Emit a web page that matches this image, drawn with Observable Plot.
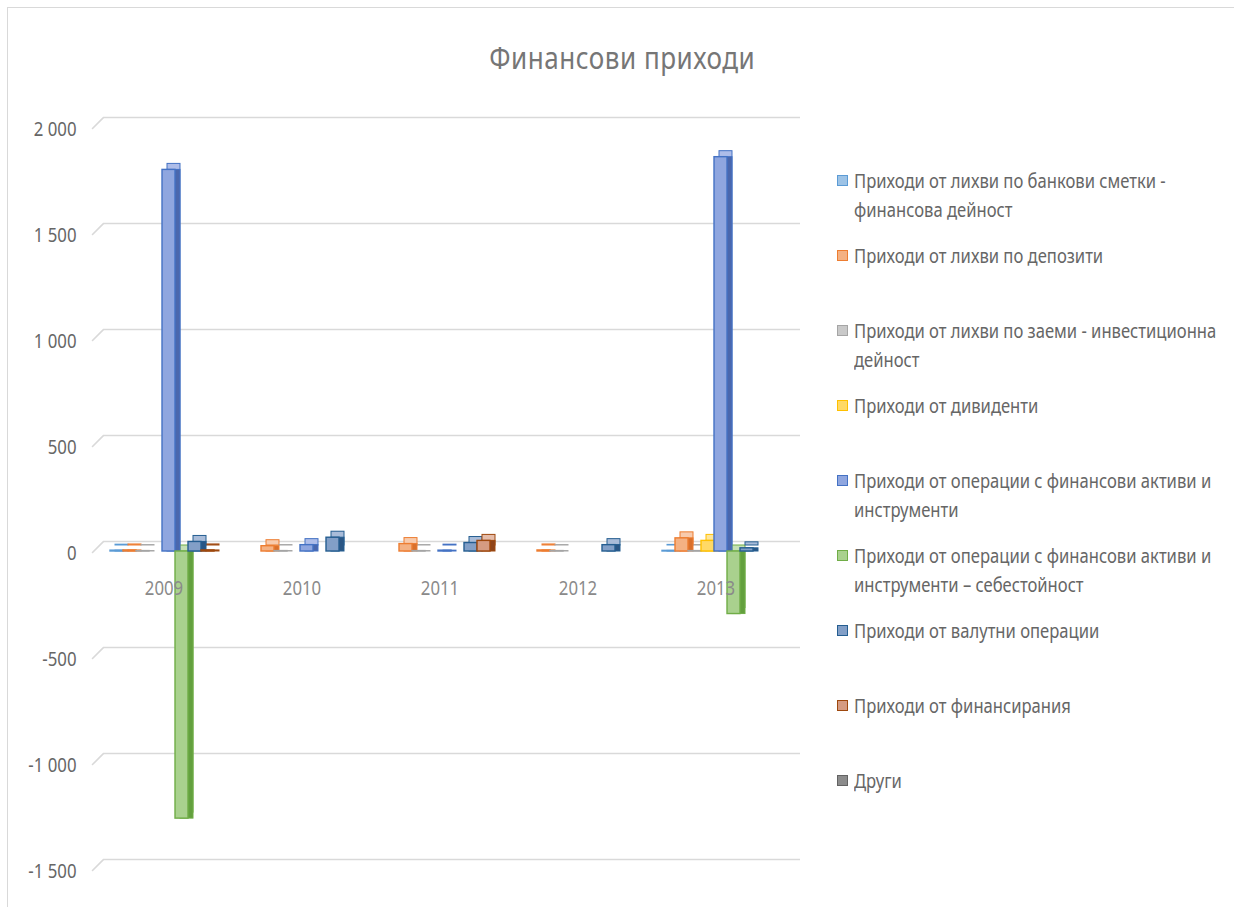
<!DOCTYPE html>
<html>
<head>
<meta charset="utf-8">
<script src="https://cdn.jsdelivr.net/npm/d3@7"></script>
<script src="https://cdn.jsdelivr.net/npm/@observablehq/plot@0.6"></script>
<style>
  body { margin: 0; background: #fff; }
  #chart { position: relative; width: 1234px; height: 907px; overflow: hidden; background: #fff;
           font-family: "Noto Sans", "Open Sans", sans-serif; }
  #frame { position: absolute; left: 7px; top: 7px; width: 1240px; height: 910px;
           border-top: 1.5px solid #d9d9d9; border-left: 1.5px solid #d9d9d9; }
  #title { position: absolute; top: 36px; left: 0; width: 1244px; text-align: center; }
  #title span { display: inline-block; font-size: 31px; color: #767676; letter-spacing: 0.6px;
                transform: scaleX(0.84); transform-origin: center; }
  .layer { position: absolute; left: 0; top: 0; }
  #legend { position: absolute; left: 837px; top: 166px; width: 460px; }
  .item { height: 75px; display: flex; align-items: flex-start; }
  .swatch { width: 9px; height: 9px; margin-top: 9px; margin-right: 6px; flex: none; border: 1.5px solid; }
  .label { display: inline-block; font-size: 20px; line-height: 29px; color: #666; width: 448px;
           transform: scaleX(0.83); transform-origin: left top; }
</style>
</head>
<body>
<div id="chart">
  <div id="frame"></div>
  <div id="title"><span>Финансови приходи</span></div>
  <div id="legend"></div>
</div>
<script>
// Years on the category axis
const years = ["2009", "2010", "2011", "2012", "2013"];

// Series names, in legend order
const seriesNames = [
  "Приходи от лихви по банкови сметки - финансова дейност",
  "Приходи от лихви по депозити",
  "Приходи от лихви по заеми - инвестиционна дейност",
  "Приходи от дивиденти",
  "Приходи от операции с финансови активи и инструменти",
  "Приходи от операции с финансови активи и инструменти – себестойност",
  "Приходи от валутни операции",
  "Приходи от финансирания",
  "Други"
];

// Values per series, one entry per year (null = no value)
const bankInterest    = [4, null, null, null, 3];
const depositInterest = [5, 25, 35, 5, 62];
const loanInterest    = [2, 2, 2, 2, 2];
const dividends       = [null, null, null, null, 50];
const assetOps        = [1800, 30, 4, null, 1860];
const assetOpsCost    = [-1260, null, null, null, -295];
const currencyOps     = [45, 65, 40, 30, 15];
const financing       = [5, null, 50, null, null];
const other           = [null, null, null, null, null];

// Value axis ticks and their labels
const yTicks = [2000, 1500, 1000, 500, 0, -500, -1000, -1500];
const yTickLabels = ["2 000", "1 500", "1 000", "500", "0", "-500", "-1 000", "-1 500"];

// Colours per series: front face, top face, side face, outline
const frontColors = ["#9dc3e6", "#f4b183", "#c9c9c9", "#ffd966", "#8fa6df", "#a9d18e", "#829fc7", "#d59b82", "#8c8c8c"];
const topColors   = ["#bdd7ee", "#f8cbad", "#dbdbdb", "#ffe699", "#aebde9", "#c5e0b4", "#a9bcd9", "#e5bca9", "#b0b0b0"];
const sideColors  = ["#5b8fc8", "#d9702c", "#979797", "#e0a800", "#4a67ad", "#63a03e", "#2a5685", "#8f4419", "#595959"];
const edgeColors  = ["#5b9bd5", "#ed7d31", "#a5a5a5", "#ffc000", "#4472c4", "#70ad47", "#255e91", "#9e480e", "#636363"];

const seriesValues = [bankInterest, depositInterest, loanInterest, dividends, assetOps,
                      assetOpsCost, currencyOps, financing, other];

const rows = [];
seriesValues.forEach((vals, k) => {
  vals.forEach((v, i) => {
    if (v != null) rows.push({year: years[i], series: seriesNames[k], k, value: v});
  });
});

const font = '"Noto Sans", "Open Sans", sans-serif';
const W = 810, H = 907;
const yDomain = [-1500, 2000];
const depth = {dx: 5, dy: -6};

// Narrow the SVG labels horizontally around their anchor point
function squeezeText(svg, k) {
  svg.querySelectorAll('g[aria-label="text"] text').forEach(t => {
    const tr = t.getAttribute("transform");
    if (tr) {
      t.setAttribute("transform", `${tr} scale(${k},1)`);
    } else {
      const x = +t.getAttribute("x") || 0, y = +t.getAttribute("y") || 0;
      t.removeAttribute("x"); t.removeAttribute("y");
      t.setAttribute("transform", `translate(${x},${y}) scale(${k},1)`);
    }
  });
}

// Back wall: gridlines, floor edges and value labels
const back = Plot.plot({
  width: W, height: H,
  marginLeft: 92, marginRight: 21, marginTop: 127, marginBottom: 38,
  x: {axis: null},
  y: {domain: yDomain, axis: null},
  style: {fontFamily: font, background: "transparent"},
  marks: [
    Plot.ruleY(yTicks, {stroke: "#d9d9d9", strokeWidth: 1.6, dx: 11, dy: -10}),
    Plot.vector(yTicks, {y: d => d, frameAnchor: "left", anchor: "start", length: 15, rotate: 45,
                         r: 0, stroke: "#d9d9d9", strokeWidth: 1.6, dy: 1}),
    Plot.text(yTicks, {y: d => d, text: (d, i) => yTickLabels[i], frameAnchor: "left", textAnchor: "end",
                       dx: -16, dy: 2, fill: "#666", fontSize: 20})
  ]
});

// Columns: top face, side face, then the front face
const bars = Plot.plot({
  width: W, height: H,
  marginLeft: 105, marginRight: 27, marginTop: 127, marginBottom: 38,
  fx: {domain: years, paddingInner: 0.1135, paddingOuter: 0, axis: null},
  x: {domain: seriesNames, padding: 0, axis: null},
  y: {domain: yDomain, axis: null},
  color: {type: "identity"},
  style: {fontFamily: font, background: "transparent"},
  marks: [
    Plot.barY(rows, {fx: "year", x: "series", y: "value", fill: d => topColors[d.k],
                     stroke: d => edgeColors[d.k], strokeWidth: 1, ...depth}),
    Plot.barY(rows, {fx: "year", x: "series", y: "value", fill: d => sideColors[d.k],
                     stroke: d => edgeColors[d.k], strokeWidth: 1, dx: depth.dx}),
    Plot.barY(rows, {fx: "year", x: "series", y: "value", fill: d => frontColors[d.k],
                     stroke: d => edgeColors[d.k], strokeWidth: 1.4}),
    Plot.text(years, {fx: d => d, y: 0, text: d => d, dx: -4.5, dy: 37, fill: "#8a8a8a", fontSize: 20})
  ]
});

squeezeText(back, 0.84);
squeezeText(bars, 0.84);

back.classList.add("layer");
bars.classList.add("layer");
const chart = document.getElementById("chart");
const legend = document.getElementById("legend");
chart.insertBefore(back, legend);
chart.insertBefore(bars, legend);

// Legend
seriesNames.forEach((name, k) => {
  const item = document.createElement("div");
  item.className = "item";
  const sw = document.createElement("span");
  sw.className = "swatch";
  sw.style.background = frontColors[k];
  sw.style.borderColor = edgeColors[k];
  const lab = document.createElement("span");
  lab.className = "label";
  lab.textContent = name;
  item.append(sw, lab);
  legend.append(item);
});
</script>
</body>
</html>
